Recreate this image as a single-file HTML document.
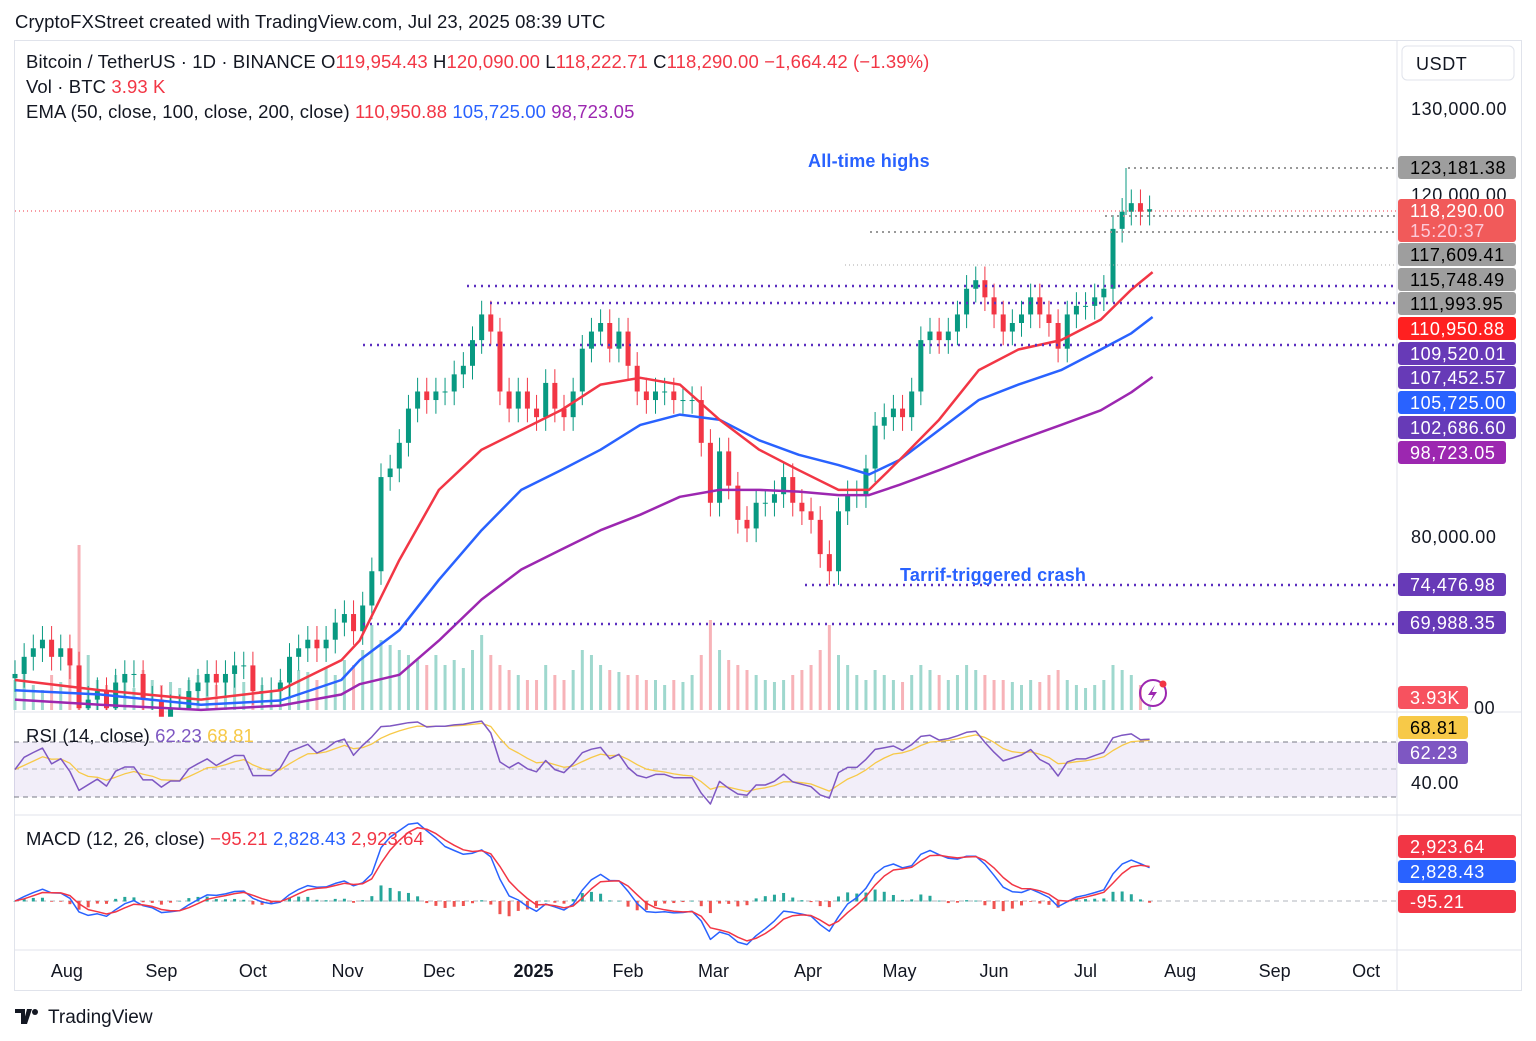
<!DOCTYPE html>
<html><head><meta charset="utf-8"><style>
body{margin:0;width:1536px;height:1041px;background:#fff;overflow:hidden;font-family:"Liberation Sans",sans-serif;}
svg{position:absolute;left:0;top:0}
</style></head><body>
<svg id="c" width="1536" height="1041" xmlns="http://www.w3.org/2000/svg" font-family="Liberation Sans, sans-serif"></svg>
<script>
// ---- data (3-day sampled closes, thousands USDT), day 0 = 2024-07-14 ----
const closes=[64,66,67,68,66,67,65,60,61,62,60,63,64,64,61,61,59,60,60,62,63,64,63,64,65,65,62,62,62,63,66,67,68,67,68,70,71,69,72,76,87,88,91,95,97,96,97,97,99,100,103,106,104,97,95,97,95,94,98,95,94,97,102,104,105,102,104,100,97,96,97,97,96,96,96,91,84,90,86,82,81,84,84,85,87,84,83,82,78,76,83,85,85,88,93,94,95,94,97,103,104,103,104,106,109,110,108,106,104,105,106,108,106,105,102,106,107,107,108,109,116,118,119,118,118.29];
const volumes=[30,45,25,20,35,28,60,165,55,30,25,35,28,22,40,30,25,28,22,30,35,28,25,30,40,28,35,25,20,30,45,40,38,30,42,35,50,45,60,85,70,65,60,55,50,45,55,45,50,42,60,75,55,45,40,35,30,30,45,35,30,40,60,55,45,40,38,35,35,30,30,25,30,28,35,55,90,60,50,45,40,35,30,28,30,35,40,45,60,85,55,45,35,30,40,35,30,28,35,45,40,35,30,35,45,40,35,30,30,28,25,30,28,35,40,30,25,22,25,30,45,40,35,25,4];
const emaDays=[0,28,61,87,107,113,126,139,153,166,179,192,205,218,231,244,257,270,280,290,303,316,329,343,356,366,373];
const ema50=[63.3,62.1,61.0,62.1,65.6,67.9,77.3,85.5,90.2,92.5,94.8,97.8,98.6,97.8,93.7,90.2,87.8,85.5,85.5,89.0,93.7,99.5,101.9,103.0,105.4,108.9,110.95];
const ema100=[62.1,61.6,60.4,60.9,63.3,65.6,69.1,75.0,80.8,85.5,87.8,90.2,93.1,94.3,93.7,91.3,89.6,88.4,87.3,89.0,92.5,96.0,97.8,99.5,101.9,103.8,105.7];
const ema200=[61.0,60.4,59.8,60.3,61.6,62.8,63.9,67.9,72.7,76.2,78.5,80.8,82.6,84.7,85.5,85.5,85.3,84.9,84.9,86.1,87.8,89.6,91.3,93.1,94.8,96.9,98.7];
const monthLabels=["Aug","Sep","Oct","Nov","Dec","2025","Feb","Mar","Apr","May","Jun","Jul","Aug","Sep","Oct"];
const monthDays=[17,48,78,109,139,170,201,229,260,290,321,351,382,413,443];

const S=document.getElementById('c');const NS="http://www.w3.org/2000/svg";
function el(t,a,p){const e=document.createElementNS(NS,t);for(const k in a)e.setAttribute(k,a[k]);(p||S).appendChild(e);return e;}
const X=d=>15+d*3.05;
const Y=p=>109+(130-p)*8.56;
const YV=v=>710-v*1.0;
const YR=v=>797-(v-30)*1.375;
const YM=v=>901-v*0.011;

// frame
let g=el('g',{});
el('rect',{x:14.5,y:40.5,width:1507,height:950,fill:'none',stroke:'#e0e3eb'},g);
[712,815,950].forEach(y=>el('line',{x1:14,x2:1521,y1:y,y2:y,stroke:'#e0e3eb'},g));
el('line',{x1:1397,x2:1397,y1:40,y2:990,stroke:'#e0e3eb'},g);

// rsi background
let rb=el('rect',{x:14,y:742,width:1383,height:55,fill:'#7e57c2','fill-opacity':0.1});

[[742,'#787b86'],[769,'#b2b5be'],[797,'#787b86']].forEach(([y,c])=>el('line',{x1:14,x2:1397,y1:y,y2:y,stroke:c,'stroke-dasharray':'5 4'}));
el('line',{x1:14,x2:1397,y1:901,y2:901,stroke:'#b2b5be','stroke-dasharray':'5 4'});

// volume
const vg=el('g',{});
volumes.forEach((v,i)=>{const up=i==0||closes[i]>=closes[i-1];
 const r=el('rect',{x:X(i*3)-1.5,y:YV(v),width:3,height:710-YV(v),fill:up?'#9fd8ce':'#f7b3b8'},vg);
 });

// candles
const cg=el('g',{});
closes.forEach((c,i)=>{const o=i?closes[i-1]:c-0.5;const up=c>=o;const col=up?'#089981':'#f23645';
 const hi=Math.max(o,c)+1.6,lo=Math.min(o,c)-1.6;const x=X(i*3);
 const w=el('line',{x1:x,x2:x,y1:Math.max(Y(hi),40),y2:Math.min(Y(lo),710),stroke:col},cg);
 const t=Math.min(Y(o),Y(c)),h=Math.max(Math.abs(Y(o)-Y(c)),1);
 const r=el('rect',{x:x-2.5,y:t,width:5,height:h,fill:col},cg);});

// EMAs
function line(vals,days,fy,col,name,w){const pts=vals.map((v,i)=>X(days[i]).toFixed(1)+','+fy(v).toFixed(1)).join(' ');
 const p=el('polyline',{points:pts,fill:'none',stroke:col,'stroke-width':w||2.5,'stroke-linejoin':'round'});return p;}
line(ema200,emaDays,Y,'#9c27b0','ema200-line');
line(ema100,emaDays,Y,'#2962ff','ema100-line');
line(ema50,emaDays,Y,'#f23645','ema50-line');

// level lines
const lv=[[211,15,'#f23645','1 3',1],[168,1128,'#999','2 4',2],[216,1105,'#999','2 4',2],[232,870,'#999','2 4',2],[265,845,'#aaa','1 3',1],
[286,467,'#5b2fc0','2 5',2.5],[303,490,'#5b2fc0','2 5',2.5],[345,363,'#5b2fc0','2 5',2.5],[585,805,'#5b2fc0','2 5',2.5],[624,363,'#5b2fc0','2 5',2.5]];
lv.forEach(([y,x,c,d,w])=>{const l=el('line',{x1:x,x2:1397,y1:y,y2:y,stroke:c,'stroke-dasharray':d,'stroke-width':w});});
el('line',{x1:1126,x2:1126,y1:168,y2:215,stroke:'#089981'});

// RSI & MACD computed from closes
const days=closes.map((c,i)=>i*3);
function rsi(arr,n){const out=[];let ag=0,al=0;for(let i=0;i<arr.length;i++){const d=i?arr[i]-arr[i-1]:0;const g=Math.max(d,0),l=Math.max(-d,0);
 if(i==0){ag=0.5;al=0.5;}else{ag=(ag*(n-1)+g)/n;al=(al*(n-1)+l)/n;}out.push(100-100/(1+ag/(al||1e-6)));}return out;}
function ema(arr,n){const k=2/(n+1);const o=[];arr.forEach((v,i)=>o.push(i?v*k+o[i-1]*(1-k):v));return o;}
const r=rsi(closes,8).map(v=>50+(v-50)*0.8);const rma=ema(r,5);
line(rma,days,YR,'#f7c948','rsi-ma-line',1.3);
line(r,days,YR,'#7e57c2','rsi-line',1.5);
const e1=ema(closes,4),e2=ema(closes,9);const macd=e1.map((v,i)=>(v-e2[i])*1000);const sig=ema(macd,3);
const hg=el('g',{});
macd.forEach((m,i)=>{const h=m-sig[i];const y=YM(h);el('rect',{x:X(i*3)-1.5,y:Math.min(y,901),width:3,height:Math.abs(y-901)+0.5,fill:h>=0?'#26a69a':'#ef5350'},hg);});
line(macd,days,YM,'#2962ff','macd-line',1.5);
line(sig,days,YM,'#f23645','signal-line',1.5);

// time axis
monthLabels.forEach((m,i)=>{const t=el('text',{x:X(monthDays[i]),y:977,'text-anchor':'middle','font-size':18,fill:'#131722','font-weight':m=='2025'?'bold':'normal'});t.textContent=m;});

// right axis
function txt(x,y,s,opt){const t=el('text',Object.assign({x:x,y:y,'font-size':18,'letter-spacing':0.6,fill:'#131722'},opt||{}));t.textContent=s;return t;}
[[130000,115],[120000,201],[80000,543]].forEach(([v,y])=>{const t=txt(1411,y,v.toLocaleString('en-US')+'.00');});
txt(1411,789,'40.00');
txt(1474,714,'00');
const boxes=[[168,'123,181.38','#9e9e9e','#000'],[255,'117,609.41','#9e9e9e','#000'],[280,'115,748.49','#9e9e9e','#000'],[304,'111,993.95','#9e9e9e','#000'],
[329,'110,950.88','#ff2020','#fff'],[354,'109,520.01','#673ab7','#fff'],[378,'107,452.57','#673ab7','#fff'],[403,'105,725.00','#2962ff','#fff'],[428,'102,686.60','#673ab7','#fff'],
[453,'98,723.05','#9c27b0','#fff',108],[585,'74,476.98','#673ab7','#fff',108],[623,'69,988.35','#673ab7','#fff',108],[698,'3.93K','#f7525f','#fff',70],
[728,'68.81','#f7c948','#000',70],[753,'62.23','#7e57c2','#fff',70],[847,'2,923.64','#f23645','#fff'],[872,'2,828.43','#2962ff','#fff'],[902,'-95.21','#f23645','#fff']];
boxes.forEach(([y,s,bg,fg,w])=>{const gg=el('g',{});
 el('rect',{x:1398,y:y-12,width:w||118,height:23,rx:3,fill:bg},gg);gg.appendChild(txt(1410,y+6,s,{fill:fg}));});
const cur=el('g',{});
el('rect',{x:1398,y:199,width:118,height:43,rx:3,fill:'#f15a5a'},cur);
cur.appendChild(txt(1410,217,'118,290.00',{fill:'#fff'}));cur.appendChild(txt(1410,237,'15:20:37',{fill:'#fde',opacity:0.85}));
const ub=el('g',{});
el('rect',{x:1402,y:46,width:112,height:34,rx:5,fill:'#fff',stroke:'#e0e3eb'},ub);ub.appendChild(txt(1416,70,'USDT'));

// annotations
let a=txt(808,167,'All-time highs',{fill:'#2962ff','font-weight':'bold','letter-spacing':0.2});
a=txt(900,581,'Tarrif-triggered crash',{fill:'#2962ff','font-weight':'bold','letter-spacing':0.2});

// legends
function spans(x,y,parts,name){const t=el('text',{x:x,y:y,'font-size':18.5,'letter-spacing':0.1,fill:'#131722'});
 parts.forEach(([s,c])=>{const sp=el('tspan',{fill:c},t);sp.textContent=s;});}
spans(15,28,[['CryptoFXStreet created with TradingView.com, Jul 23, 2025 08:39 UTC','#131722']],'header-title');
spans(26,68,[['Bitcoin / TetherUS · 1D · BINANCE  O','#131722'],['119,954.43','#f23645'],['  H','#131722'],['120,090.00','#f23645'],['  L','#131722'],['118,222.71','#f23645'],['  C','#131722'],['118,290.00','#f23645'],['  −1,664.42 (−1.39%)','#f23645']],'ohlc-legend');
spans(26,93,[['Vol · BTC  ','#131722'],['3.93 K','#f23645']],'volume-legend');
spans(26,118,[['EMA (50, close, 100, close, 200, close)  ','#131722'],['110,950.88','#f23645'],['  105,725.00','#2962ff'],['  98,723.05','#9c27b0']],'ema-legend');
spans(26,742,[['RSI (14, close)  ','#131722'],['62.23','#7e57c2'],['  68.81','#f7c948']],'rsi-legend');
spans(26,845,[['MACD (12, 26, close)  ','#131722'],['−95.21','#f23645'],['  2,828.43','#2962ff'],['  2,923.64','#f23645']],'macd-legend');
const lg=el('g',{});
el('path',{d:'M15 1009h10v15h-4v-11h-6zM27 1009h5l-5 15h-4z',fill:'#131722'},lg);el('circle',{cx:35,cy:1012,r:3,fill:'#131722'},lg);
lg.appendChild(txt(48,1023,'TradingView',{'font-size':19,'letter-spacing':0}));
const bolt=el('g',{});
el('circle',{cx:1153,cy:693,r:13,fill:'none',stroke:'#9c27b0','stroke-width':2},bolt);
el('path',{d:'M1155 685l-7 10h5l-3 7 7-10h-5z',fill:'#9c27b0'},bolt);el('circle',{cx:1163,cy:684,r:3.5,fill:'#f23645'},bolt);
</script></body></html>
